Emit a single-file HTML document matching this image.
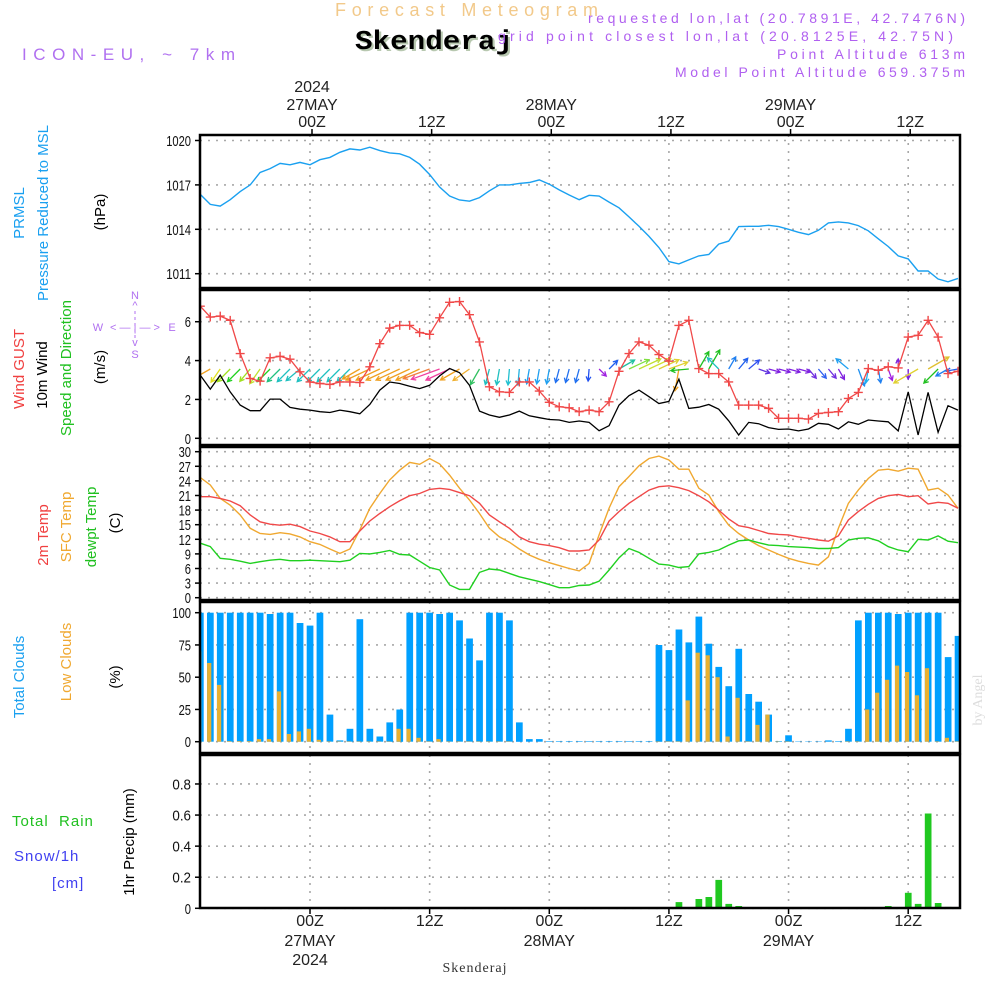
<!DOCTYPE html>
<html><head><meta charset="utf-8"><title>Forecast Meteogram Skenderaj</title>
<style>
html,body{margin:0;padding:0;background:#fff;}
svg{display:block;font-family:"Liberation Sans",sans-serif;}
.tk{font-size:15px;fill:#111;}
.vl{font-size:15px;}
</style></head>
<body>
<svg id="chart" width="1000" height="1000" viewBox="0 0 1000 1000" xmlns="http://www.w3.org/2000/svg">
<rect x="0" y="0" width="1000" height="1000" fill="#fff"/>
<!-- header -->
<text x="335" y="16" font-size="18" fill="#f2c98a" textLength="263" lengthAdjust="spacing">Forecast Meteogram</text>
<text x="355" y="49" font-size="27" font-weight="bold" font-family="Liberation Mono, monospace" fill="#000" textLength="158" lengthAdjust="spacingAndGlyphs" style="text-shadow:2px 2px 0 #b8c8b0">Skenderaj</text>
<text x="22" y="60" font-size="17" fill="#b070f0" textLength="213" lengthAdjust="spacing">ICON-EU, ~ 7km</text>
<text x="588" y="23" font-size="14" fill="#b060f0" textLength="377" lengthAdjust="spacing">requested lon,lat (20.7891E, 42.7476N)</text>
<text x="498" y="41" font-size="14" fill="#b060f0" textLength="455" lengthAdjust="spacing">grid point closest lon,lat (20.8125E, 42.75N)</text>
<text x="777" y="59" font-size="14" fill="#b060f0" textLength="188" lengthAdjust="spacing">Point Altitude 613m</text>
<text x="675" y="77" font-size="14" fill="#b060f0" textLength="290" lengthAdjust="spacing">Model Point Altitude 659.375m</text>

<!-- left vertical labels -->
<g class="vl">
<text transform="translate(24,213) rotate(-90)" text-anchor="middle" fill="#1aa0f0">PRMSL</text>
<text transform="translate(48,213) rotate(-90)" text-anchor="middle" fill="#1aa0f0">Pressure Reduced to MSL</text>
<text transform="translate(105,212) rotate(-90)" text-anchor="middle" fill="#000">(hPa)</text>
</g>
<g class="vl">
<text transform="translate(24,369) rotate(-90)" text-anchor="middle" fill="#f04040">Wind GUST</text>
<text transform="translate(47,375) rotate(-90)" text-anchor="middle" fill="#000">10m Wind</text>
<text transform="translate(71,368) rotate(-90)" text-anchor="middle" fill="#20c020">Speed and Direction</text>
<text transform="translate(105,367) rotate(-90)" text-anchor="middle" fill="#000">(m/s)</text>
</g>
<g fill="#b070f0" font-size="11" text-anchor="middle">
<text x="135" y="299">N</text><text x="135" y="309">^</text>
<text x="98" y="331">W</text><text x="135" y="331">&lt; — | — &gt;</text><text x="172" y="331">E</text>
<text x="135" y="346">v</text><text x="135" y="358">S</text>
<line x1="135" y1="311" x2="135" y2="340" stroke="#b070f0" stroke-dasharray="3 3"/>
</g>
<g class="vl">
<text transform="translate(48,535) rotate(-90)" text-anchor="middle" fill="#f04040">2m Temp</text>
<text transform="translate(71,527) rotate(-90)" text-anchor="middle" fill="#f0a830">SFC Temp</text>
<text transform="translate(96,527) rotate(-90)" text-anchor="middle" fill="#20c020">dewpt Temp</text>
<text transform="translate(120,523) rotate(-90)" text-anchor="middle" fill="#000">(C)</text>
</g>
<g class="vl">
<text transform="translate(24,677) rotate(-90)" text-anchor="middle" fill="#1aa0f0">Total Clouds</text>
<text transform="translate(71,662) rotate(-90)" text-anchor="middle" fill="#f0a830">Low Clouds</text>
<text transform="translate(120,677) rotate(-90)" text-anchor="middle" fill="#000">(%)</text>
</g>
<g font-size="15">
<text x="12" y="826" fill="#20c020" letter-spacing="1">Total&#160;&#160;Rain</text>
<text x="14" y="861" fill="#4040f0" letter-spacing="1">Snow/1h</text>
<text x="52" y="888" fill="#4040f0" letter-spacing="1">[cm]</text>
<text transform="translate(134,842) rotate(-90)" text-anchor="middle" fill="#000">1hr Precip (mm)</text>
</g>
<text x="475" y="972" text-anchor="middle" font-size="14" font-family="Liberation Serif, serif" fill="#333" letter-spacing="1">Skenderaj</text>
<text transform="translate(982,700) rotate(-90)" text-anchor="middle" font-size="14" font-family="Liberation Serif, serif" fill="#dddddd">by Angel</text>
<g id="plot"></g>
</svg>
<script>
// ---------- data (hourly, 26 May 13Z .. 29 May 17Z) ----------
const timeLabelHours = [0, 12, 24, 36, 48, 60];
const timeLabelsZ = ["00Z", "12Z", "00Z", "12Z", "00Z", "12Z"];
const timeLabelsDay = ["27MAY", "", "28MAY", "", "29MAY", ""];
const timeLabelsYear = ["2024", "", "", "", "", ""];

const pressure = [1016.36,1015.68,1015.57,1016.0,1016.55,1017.0,1017.84,1018.1,1018.45,1018.36,1018.52,1018.36,1018.7,1018.86,1019.2,1019.43,1019.36,1019.55,1019.32,1019.16,1019.1,1018.86,1018.4,1017.7,1016.86,1016.25,1015.98,1015.9,1016.14,1016.6,1017.0,1017.0,1017.1,1017.16,1017.34,1017.05,1016.66,1016.32,1016.0,1016.3,1016.25,1015.84,1015.45,1014.84,1014.2,1013.52,1012.77,1011.82,1011.66,1011.93,1012.2,1012.3,1013.0,1013.2,1014.18,1014.2,1014.2,1014.27,1014.18,1014.0,1013.8,1013.64,1013.93,1014.43,1014.5,1014.43,1014.25,1013.9,1013.36,1012.84,1012.2,1012.0,1011.18,1011.18,1010.64,1010.45,1010.68];
const gust = [6.8,6.24,6.29,6.07,4.36,3.08,2.94,4.14,4.22,4.07,3.42,2.9,2.82,2.77,2.9,2.9,2.87,3.68,4.87,5.67,5.81,5.81,5.44,5.35,6.2,7.0,7.04,6.36,4.96,2.65,2.39,2.36,2.9,2.9,2.43,1.85,1.62,1.57,1.37,1.45,1.37,1.88,3.45,4.36,4.96,4.79,4.31,3.97,5.81,6.07,3.59,3.33,3.33,2.9,1.71,1.71,1.71,1.54,1.03,1.03,1.03,0.99,1.28,1.33,1.37,2.05,2.36,3.59,3.5,3.68,3.62,5.21,5.3,6.07,5.21,3.33,3.45];
const wind10m = [3.25,2.53,3.25,2.39,1.71,1.42,1.42,2.02,2.02,1.59,1.5,1.45,1.37,1.33,1.45,1.37,1.26,1.74,2.48,2.9,2.82,2.68,2.56,2.73,3.21,3.59,3.38,2.73,1.4,1.2,1.08,1.2,1.4,1.16,1.06,0.97,0.94,0.82,0.89,0.82,0.39,0.65,1.71,2.19,2.48,2.14,1.79,1.9,3.04,1.54,1.6,1.74,1.5,0.9,0.17,0.82,0.75,0.55,0.46,0.48,0.38,0.48,0.77,0.72,0.48,0.85,0.72,0.94,0.89,0.85,0.38,2.39,0.17,2.36,0.31,1.68,1.45];
// arrow direction (screen degrees the arrow points to), arrow length, arrow colour
const arrowAngle = [160,150,125,135,135,130,125,135,135,135,140,135,135,135,135,135,150,155,155,155,155,155,155,160,160,155,150,145,120,105,100,95,95,100,100,100,105,105,105,95,45,315,330,335,335,335,335,340,100,175,300,300,225,300,310,320,20,15,15,15,15,50,50,50,60,220,70,100,80,70,270,90,150,330,135,150,170];
const arrowLen = [22,20,16,18,18,16,18,18,18,18,18,18,18,18,18,18,20,26,26,26,26,26,26,28,30,26,22,20,18,16,16,16,16,15,15,15,14,14,14,12,10,12,18,22,24,24,22,20,22,18,20,22,16,14,14,14,12,12,12,12,12,12,12,12,12,16,18,14,14,12,10,10,28,24,20,14,12];
const arrowColor = ["#f0a020","#f0a020","#e0e020","#a0e020","#20d020","#a0e020","#c0e030","#20d020","#20c080","#20c0c0","#20c0c0","#20c0c0","#20c0c0","#20c0c0","#20c0c0","#20c0c0","#f0a020","#f0a020","#f0a020","#f0a020","#f0a020","#f0a020","#f0a020","#f08040","#f040a0","#f040a0","#f0a020","#f0b030","#30c060","#20c0c0","#20c0c0","#20c0d0","#20b0e0","#20a0f0","#20a0f0","#20a0f0","#2070f0","#2070f0","#2070f0","#2050f0","#a020e0","#2060f0","#20c0a0","#80e040","#c0e030","#d0e030","#e0d030","#e0d030","#f0a020","#20c020","#20c020","#20c020","#20c0c0","#2080f0","#2060f0","#3050f0","#6030e0","#8020e0","#8020e0","#8020e0","#8020e0","#7030e0","#3060f0","#7030e0","#8020e0","#20a0f0","#2090f0","#20b0f0","#2080f0","#a020e0","#8020e0","#8020e0","#e0d030","#e0c030","#20c020","#2080f0","#2060f0"];
const temp2m = [20.75,20.75,20.4,19.86,18.9,17.0,15.6,15.1,14.9,15.1,14.6,13.7,13.2,12.5,11.5,11.5,13.7,15.75,17.3,18.7,19.9,20.96,21.4,22.26,22.47,22.26,21.6,20.96,19.4,17.0,15.6,14.25,12.5,11.5,11.0,10.7,10.27,9.6,9.6,9.8,11.85,15.75,17.7,19.4,20.75,22.1,22.8,23.0,22.6,22.0,20.96,19.7,18.0,16.2,14.8,14.4,13.8,13.2,13.0,12.9,12.5,12.2,11.85,11.6,12.7,15.96,17.7,19.2,20.4,20.96,21.2,20.75,20.96,19.25,19.6,19.4,18.36];
const tempSfc = [24.7,23.15,20.4,19.0,17.0,14.25,13.2,13.0,13.36,13.1,12.5,11.5,10.96,10.0,9.1,10.0,13.9,18.36,21.4,24.2,26.2,27.8,27.4,28.6,27.5,25.2,22.5,20.07,17.3,14.25,12.5,11.4,10.0,8.77,7.9,7.2,6.6,6.0,5.5,7.05,12.9,18.4,22.8,24.9,27.1,28.6,29.1,28.3,26.4,26.4,22.5,21.1,17.7,14.9,13.2,11.85,10.7,9.8,8.9,8.1,7.5,7.05,6.7,8.4,14.25,19.4,22.1,24.5,26.2,26.4,26.0,26.6,26.4,22.1,22.5,21.1,18.36];
const dewpoint = [11.2,10.5,8.1,7.9,7.5,7.05,7.4,7.7,7.9,7.6,7.6,7.7,7.6,7.5,7.4,7.7,9.1,9.0,9.3,9.7,8.9,8.77,7.5,6.2,5.7,2.6,1.7,1.7,5.2,5.9,5.7,5.0,4.3,3.8,3.3,2.7,2.05,2.05,2.5,2.6,3.4,5.7,8.2,10.1,9.3,8.1,6.9,6.7,6.2,6.4,9.0,9.3,9.8,10.8,11.7,11.85,11.3,10.8,10.7,10.5,10.4,10.3,10.1,10.1,10.3,11.85,12.2,12.3,11.7,10.5,9.8,9.45,12.0,11.85,12.7,11.6,11.3];
const totalClouds = [100,100,100,100,100,100,100,99,100,100,92,90,100,21,1,10,95,10,4,15,25,100,100,100,99,100,94,80,63,100,100,94,15,2,2,0.5,0.5,0.5,0.5,0.5,0.5,0.5,0.5,0.5,0.5,0.5,75,71,87,77,97,76,58,43,72,37,31,21,0.5,5,0.3,0.3,0.3,1,0.5,10,94,100,100,100,99,100,100,100,100,65.6,82];
const lowClouds = [70,61,44,0.5,0.5,0.5,2,2,39,6,8,10,1.5,0.3,0.3,0.3,0.3,0.3,0.3,0.3,10,10,3,0.3,2,0.3,0.3,0.3,0.3,0.3,0.3,0.3,0,0,0,0,0,0,0,0,0,0,0,0,0,0,0.3,0.3,0.3,32,69,67,50,4,34,0.3,13,21,0.3,0.3,0,0,0,0,0,0.3,0.3,25,38,48,59,54,36,57,0.3,3,0.3];
const precip = [0,0,0,0,0,0,0,0,0,0,0,0,0,0,0,0,0,0,0,0,0,0,0,0,0,0,0,0,0,0,0,0,0,0,0,0,0,0,0,0,0,0,0,0,0,0,0,0,0.04,0,0.06,0.073,0.183,0.028,0.015,0,0,0,0,0,0,0,0,0,0,0,0,0,0,0.015,0,0.1,0.028,0.61,0.034,0.009,0];

const presTicks = [1020, 1017, 1014, 1011];
const windTicks = [0, 2, 4, 6];
const tempTicks = [0, 3, 6, 9, 12, 15, 18, 21, 24, 27, 30];
const cloudTicks = [0, 25, 50, 75, 100];
const precTicks = [0, 0.2, 0.4, 0.6, 0.8];
const precTickLabels = ["0", "0.2", "0.4", "0.6", "0.8"];

// ---------- scales ----------
const NS = "http://www.w3.org/2000/svg";
const X0 = 200, X1 = 960;
function xIdx(i) { return 200.3 + 9.97 * i; }
function xHour(h) { return 310 + 9.97 * h; }
function yP(v) { return 140.5 + (1020 - v) * 14.8; }
function yW(v) { return 438.3 - v * 19.43; }
function yT(v) { return 597.7 - v * 4.867; }
function yC(v) { return 741.7 - v * 1.29; }
function yR(v) { return 908.3 - v * 155.4; }
const panels = [
  { key: "pressure", top: 135, bot: 288, ticks: presTicks, labels: presTicks.map(String), y: yP },
  { key: "wind", top: 290, bot: 445, ticks: windTicks, labels: windTicks.map(String), y: yW },
  { key: "temp", top: 447, bot: 600, ticks: tempTicks, labels: tempTicks.map(String), y: yT },
  { key: "cloud", top: 602, bot: 753, ticks: cloudTicks, labels: cloudTicks.map(String), y: yC },
  { key: "precip", top: 755, bot: 908, ticks: precTicks, labels: precTickLabels, y: yR }
];
const plot = document.getElementById("plot");
function mk(tag, attrs, parent) {
  const e = document.createElementNS(NS, tag);
  for (const k in attrs) e.setAttribute(k, attrs[k]);
  (parent || plot).appendChild(e);
  return e;
}
const defs = mk("defs", {});
panels.forEach(function (p) {
  const cp = mk("clipPath", { id: "clip-" + p.key }, defs);
  mk("rect", { x: X0, y: p.top, width: X1 - X0, height: p.bot - p.top }, cp);
});

// ---------- grid, ticks, frames ----------
panels.forEach(function (p) {
  const g = mk("g", {});
  
  
  p.ticks.forEach(function (t, k) {
    const yy = p.y(t);
    const gl = mk("line", { x1: X0, x2: X1, y1: yy, y2: yy, stroke: "#a8a8a8", "stroke-width": 1.6, "stroke-dasharray": "2 6" }, g);
    
    
    const tk = mk("line", { x1: X0 - 5, x2: X0, y1: yy, y2: yy, stroke: "#000", "stroke-width": 1.5 }, g);
    
    
    const tl = mk("text", { x: 191, y: yy + 5.5, "text-anchor": "end", class: "tk" }, g);
    
    
    tl.textContent = p.labels[k];
    const w = p.labels[k].length * 6.2;
    tl.setAttribute("textLength", w);
    tl.setAttribute("lengthAdjust", "spacingAndGlyphs");
  });
  timeLabelHours.forEach(function (h) {
    const xx = xHour(h);
    const vl = mk("line", { x1: xx, x2: xx, y1: p.top, y2: p.bot, stroke: "#a8a8a8", "stroke-width": 1.6, "stroke-dasharray": "2 6" }, g);
    
    
  });
  p.g = g;
});

// ---------- pressure ----------
(function () {
  const pts = pressure.map(function (v, i) { return xIdx(i).toFixed(1) + "," + yP(v).toFixed(1); }).join(" ");
  const l = mk("polyline", { points: pts, fill: "none", stroke: "#1aa0f0", "stroke-width": 1.4, "clip-path": "url(#clip-pressure)" });
  
  
})();

// ---------- wind ----------
(function () {
  const ga = mk("g", { "clip-path": "url(#clip-wind)" });
  
  
  arrowAngle.forEach(function (a, i) {
    const rad = a * Math.PI / 180, L = arrowLen[i];
    const x1 = xIdx(i), y1 = 369;
    const x2 = x1 + Math.cos(rad) * L, y2 = y1 + Math.sin(rad) * L;
    const c = arrowColor[i];
    const b1 = rad + Math.PI - 0.5, b2 = rad + Math.PI + 0.5;
    const d = "M" + x1.toFixed(1) + "," + y1.toFixed(1) + "L" + x2.toFixed(1) + "," + y2.toFixed(1) +
      "M" + (x2 + Math.cos(b1) * 5).toFixed(1) + "," + (y2 + Math.sin(b1) * 5).toFixed(1) + "L" + x2.toFixed(1) + "," + y2.toFixed(1) +
      "L" + (x2 + Math.cos(b2) * 5).toFixed(1) + "," + (y2 + Math.sin(b2) * 5).toFixed(1);
    const ar = mk("path", { d: d, fill: "none", stroke: c, "stroke-width": 1.3 }, ga);
    
    
  });
  const wpts = wind10m.map(function (v, i) { return xIdx(i).toFixed(1) + "," + yW(v).toFixed(1); }).join(" ");
  const wl = mk("polyline", { points: wpts, fill: "none", stroke: "#000", "stroke-width": 1.3, "clip-path": "url(#clip-wind)" });
  
  
  const gpts = gust.map(function (v, i) { return xIdx(i).toFixed(1) + "," + yW(v).toFixed(1); }).join(" ");
  const gl = mk("polyline", { points: gpts, fill: "none", stroke: "#f04848", "stroke-width": 1.3, "clip-path": "url(#clip-wind)" });
  
  
  const gm = mk("g", { stroke: "#f04848", "stroke-width": 1.4, "clip-path": "url(#clip-wind)" });
  
  
  gust.forEach(function (v, i) {
    const x = xIdx(i), y = yW(v);
    const m = mk("path", { d: "M" + (x - 4.5) + "," + y + "h9M" + x + "," + (y - 4.5) + "v9" }, gm);
    
    
  });
})();

// ---------- temperature ----------
[[tempSfc, "#f0a830", "sfc-temp-line"], [temp2m, "#f04848", "2m-temp-line"], [dewpoint, "#20d020", "dewpoint-line"]].forEach(function (s) {
  const pts = s[0].map(function (v, i) { return xIdx(i).toFixed(1) + "," + yT(v).toFixed(1); }).join(" ");
  const l = mk("polyline", { points: pts, fill: "none", stroke: s[1], "stroke-width": 1.4, "clip-path": "url(#clip-temp)" });
  
  
});

// ---------- clouds ----------
(function () {
  const g = mk("g", { "clip-path": "url(#clip-cloud)" });
  
  
  totalClouds.forEach(function (v, i) {
    const x = xIdx(i);
    const r = mk("rect", { x: (x - 3.3).toFixed(1), y: yC(v).toFixed(1), width: 6.7, height: (yC(0) - yC(v)).toFixed(1), fill: "#00a0ff" }, g);
    
    
  });
  lowClouds.forEach(function (v, i) {
    const x = xIdx(i);
    const r = mk("rect", { x: (x - 3.2).toFixed(1), y: yC(v).toFixed(1), width: 4.2, height: (yC(0) - yC(v)).toFixed(1), fill: "#e8b030" }, g);
    
    
  });
})();

// ---------- precip ----------
(function () {
  const g = mk("g", { "clip-path": "url(#clip-precip)" });
  
  
  precip.forEach(function (v, i) {
    if (v <= 0) return;
    const x = xIdx(i);
    const r = mk("rect", { x: (x - 3.3).toFixed(1), y: yR(v).toFixed(1), width: 6.7, height: (yR(0) - yR(v)).toFixed(1), fill: "#20c820" }, g);
    
    
  });
})();

// ---------- frames ----------
panels.forEach(function (p) {
  const f = mk("rect", { x: X0, y: p.top, width: X1 - X0, height: p.bot - p.top, fill: "none", stroke: "#000", "stroke-width": 2.5 });
  
  
});

// ---------- time axis labels ----------
timeLabelHours.forEach(function (h, k) {
  const x = xHour(h) + 2;
  const t1 = mk("line", { x1: x, x2: x, y1: 129, y2: 135, stroke: "#000", "stroke-width": 1.5 });
  
  
  const t2 = mk("line", { x1: x - 2, x2: x - 2, y1: 908, y2: 914, stroke: "#000", "stroke-width": 1.5 });
  
  
  [[timeLabelsZ[k], 127, 926], [timeLabelsDay[k], 110, 946], [timeLabelsYear[k], 92, 965]].forEach(function (r) {
    if (!r[0]) return;
    const a = mk("text", { x: x, y: r[1], "text-anchor": "middle", "font-size": 16, fill: "#222" });
    
    
    a.textContent = r[0];
    const b = mk("text", { x: x - 2, y: r[2], "text-anchor": "middle", "font-size": 16, fill: "#222" });
    
    
    b.textContent = r[0];
  });
});
</script>
</body></html>
